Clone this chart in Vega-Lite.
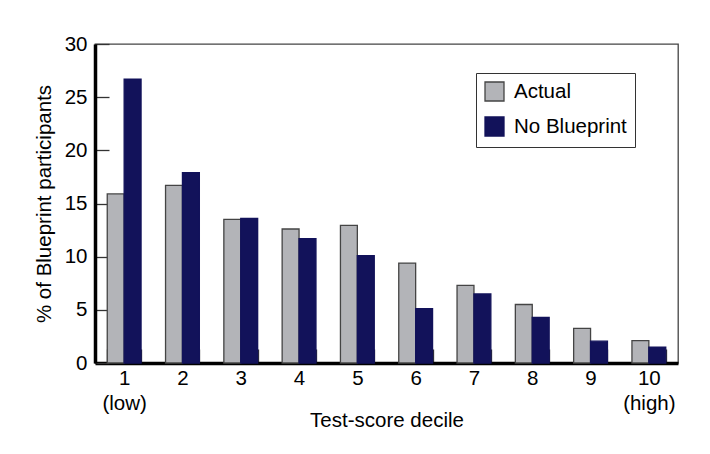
{
  "$schema": "https://vega.github.io/schema/vega-lite/v6.json",
  "width": 583,
  "height": 319,
  "autosize": "none",
  "padding": {"left": 95, "top": 44, "right": 32, "bottom": 91},
  "background": "white",
  "config": {
    "font": "Liberation Sans",
    "view": {"stroke": "#444", "strokeWidth": 1.3}
  },
  "data": {
    "values": [
      {"decile": 1, "series": "Actual", "pct": 15.9},
      {"decile": 1, "series": "No Blueprint", "pct": 26.7},
      {"decile": 2, "series": "Actual", "pct": 16.7},
      {"decile": 2, "series": "No Blueprint", "pct": 17.9},
      {"decile": 3, "series": "Actual", "pct": 13.5},
      {"decile": 3, "series": "No Blueprint", "pct": 13.6},
      {"decile": 4, "series": "Actual", "pct": 12.6},
      {"decile": 4, "series": "No Blueprint", "pct": 11.7},
      {"decile": 5, "series": "Actual", "pct": 12.95},
      {"decile": 5, "series": "No Blueprint", "pct": 10.1},
      {"decile": 6, "series": "Actual", "pct": 9.4},
      {"decile": 6, "series": "No Blueprint", "pct": 5.1},
      {"decile": 7, "series": "Actual", "pct": 7.3},
      {"decile": 7, "series": "No Blueprint", "pct": 6.5},
      {"decile": 8, "series": "Actual", "pct": 5.5},
      {"decile": 8, "series": "No Blueprint", "pct": 4.3},
      {"decile": 9, "series": "Actual", "pct": 3.25},
      {"decile": 9, "series": "No Blueprint", "pct": 2.05},
      {"decile": 10, "series": "Actual", "pct": 2.1},
      {"decile": 10, "series": "No Blueprint", "pct": 1.5}
    ]
  },
  "mark": {"type": "bar", "strokeWidth": 1.3},
  "encoding": {
    "x": {
      "field": "decile",
      "type": "ordinal",
      "scale": {"paddingInner": 0.42, "paddingOuter": 0.21},
      "axis": {
        "title": "Test-score decile",
        "titleFont": "Liberation Sans",
        "titleFontSize": 20.5,
        "titleFontWeight": "normal",
        "titleColor": "black",
        "titlePadding": -3,
        "labelAngle": 0,
        "labelFontSize": 20.5,
        "labelColor": "black",
        "labelLineHeight": 25,
        "labelPadding": 19,
        "labelExpr": "datum.value == 1 ? ['1', '(low)'] : datum.value == 10 ? ['10', '(high)'] : datum.label",
        "tickBand": "extent",
        "tickSize": -14,
        "tickColor": "#333",
        "tickWidth": 1.3,
        "domainColor": "black",
        "domainWidth": 3.5
      }
    },
    "xOffset": {"field": "series", "type": "nominal"},
    "y": {
      "field": "pct",
      "type": "quantitative",
      "scale": {"domain": [0, 30], "nice": false},
      "axis": {
        "title": "% of Blueprint participants",
        "titleFont": "Liberation Sans",
        "titleFontSize": 20.5,
        "titleFontWeight": "normal",
        "titleColor": "black",
        "titlePadding": 10,
        "values": [0, 5, 10, 15, 20, 25, 30],
        "labelFontSize": 20.5,
        "labelColor": "black",
        "labelPadding": 22,
        "tickSize": -14,
        "tickColor": "#333",
        "tickWidth": 1.3,
        "grid": false,
        "domainColor": "black",
        "domainWidth": 3.5
      }
    },
    "fill": {
      "field": "series",
      "type": "nominal",
      "scale": {"domain": ["Actual", "No Blueprint"], "range": ["#b3b4b8", "#12125a"]},
      "legend": {
        "title": null,
        "orient": "none",
        "legendX": 381,
        "legendY": 29,
        "padding": 8,
        "strokeColor": "#333",
        "fillColor": "white",
        "symbolType": "square",
        "symbolSize": 361,
        "symbolStrokeWidth": 1.3,
        "labelFontSize": 20.5,
        "labelColor": "black",
        "labelOffset": 9,
        "rowPadding": 10
      }
    },
    "stroke": {
      "field": "series",
      "type": "nominal",
      "scale": {"domain": ["Actual", "No Blueprint"], "range": ["#444", "#12125a"]},
      "legend": {
        "title": null,
        "orient": "none",
        "legendX": 381,
        "legendY": 29,
        "padding": 8,
        "strokeColor": "#333",
        "fillColor": "white",
        "symbolType": "square",
        "symbolSize": 361,
        "symbolStrokeWidth": 1.3,
        "labelFontSize": 20.5,
        "labelColor": "black",
        "labelOffset": 9,
        "rowPadding": 10
      }
    }
  }
}
